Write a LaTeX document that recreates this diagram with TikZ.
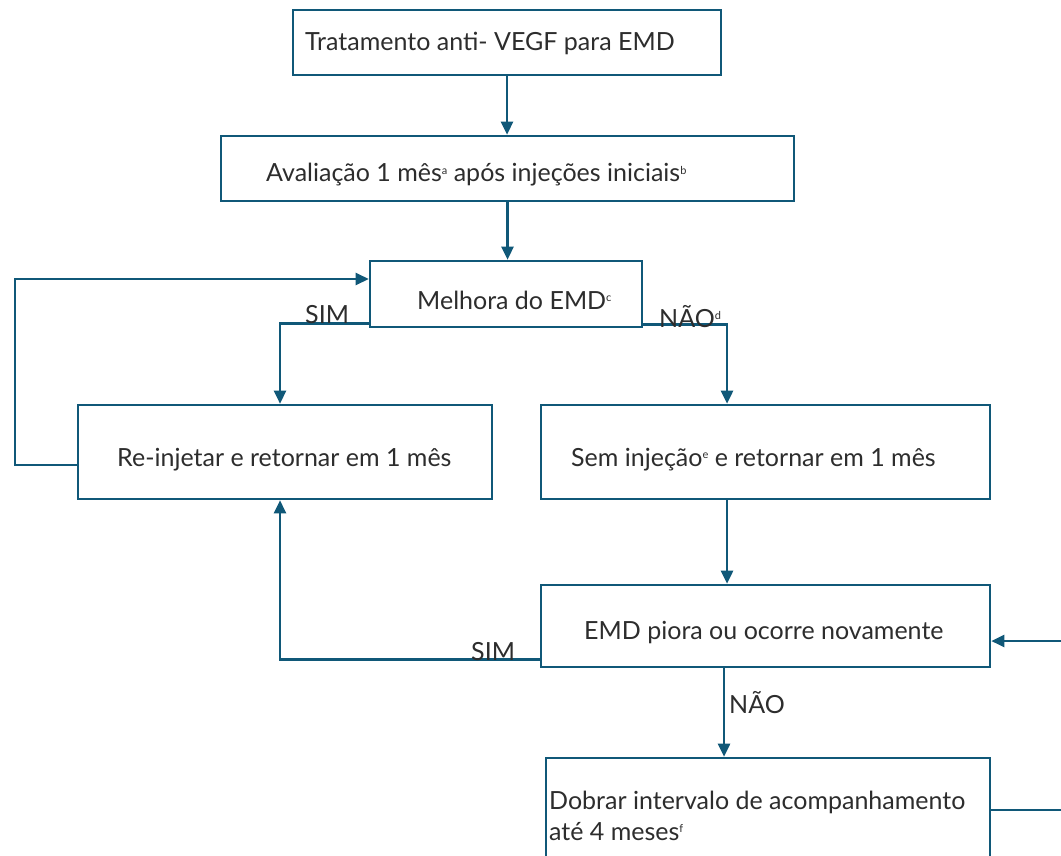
\documentclass[tikz,border=0pt]{standalone}
\usepackage{fontspec}
\setmainfont{Lato}
\usetikzlibrary{arrows.meta}
\definecolor{flowline}{RGB}{16,88,120}
\definecolor{flowtext}{RGB}{45,45,45}
\newcommand{\fnmark}[1]{\raisebox{0.62ex}{\fontsize{11}{11}\selectfont #1}}
\begin{document}
\begin{tikzpicture}[x=1pt,y=-1pt,
  box/.style={draw=flowline,line width=2.6pt,fill=white,inner sep=0pt},
  label/.style={anchor=west,inner sep=0pt,text=flowtext,font=\fontsize{25}{31}\selectfont},
  tag/.style={anchor=base west,inner sep=0pt,text=flowtext,font=\fontsize{25}{30}\selectfont},
  arr/.style={draw=flowline,line width=2.6pt,-{Triangle[length=13pt,width=12pt]}},
  link/.style={draw=flowline,line width=2.6pt}]
\useasboundingbox (0,0) rectangle (1061,856);
\clip (0,0) rectangle (1061,856);
\fill[white] (0,0) rectangle (1061,856);

% boxes
\node[box,minimum width=428pt,minimum height=65pt] (b1) at (507,42.5) {};
\node[box,minimum width=573pt,minimum height=65pt] (b2) at (507.5,168.5) {};
\node[box,minimum width=272pt,minimum height=66pt] (b3) at (506,294) {};
\node[box,minimum width=414pt,minimum height=94pt] (b4) at (285,452) {};
\node[box,minimum width=449pt,minimum height=94pt] (b5) at (765.5,452) {};
\node[box,minimum width=449pt,minimum height=82pt] (b6) at (765.5,626) {};
\node[box,minimum width=444pt,minimum height=130pt] (b7) at (768,823) {};

% box texts
\node[label] (t1) at (305,43) {Tratamento anti- VEGF para EMD};
\node[label] (t2) at (266,175) {Avaliação 1 mês\fnmark{a} após injeções iniciais\fnmark{b}};
\node[label] (t3) at (417,300) {Melhora do EMD\fnmark{c}};
\node[label] (t4) at (117,460) {Re-injetar e retornar em 1 mês};
\node[label] (t5) at (571,460) {Sem injeção\fnmark{e} e retornar em 1 mês};
\node[label] (t6) at (584,633) {EMD piora ou ocorre novamente};
\node[label,align=left] (t7) at (549,816) {Dobrar intervalo de acompanhamento\\até 4 meses\fnmark{f}};

% routing columns, corners and edge points
\coordinate (cl) at (15,279);
\coordinate (cs) at (280,0);
\coordinate (cn) at (727,0);
\coordinate (cd) at (724,0);
\coordinate (eout) at (1061,810);
\coordinate (ein) at (1061,641);

% connectors
\draw[arr] (b1.south) -- (b1.south |- b2.north);
\draw[arr] (b2.south) -- (b2.south |- b3.north);
\draw[arr] ([yshift=5pt]b3.south west) -| (cs |- b4.north);
\draw[arr] ([yshift=4pt]b3.south east) -| (cn |- b5.north);
\draw[arr] ([yshift=-13pt]b4.west) -| (cl) -- (b3.west |- cl);
\draw[arr] (cn |- b5.south) -- (cn |- b6.north);
\draw[arr] ([yshift=9pt]b6.south west) -| (cs |- b4.south);
\draw[arr] (cd |- b6.south) -- (cd |- b7.north);
\draw[link] (b7.east |- eout) -- (eout);
\draw[arr] (ein) -- (b6.east |- ein);

% branch labels
\node[tag] (s1) at (305,323) {SIM};
\node[tag] (n1) at (659,327) {NÃO\fnmark{d}};
\node[tag] (s2) at (471,660) {SIM};
\node[tag] (n2) at (729,713) {NÃO};
\end{tikzpicture}
\end{document}
